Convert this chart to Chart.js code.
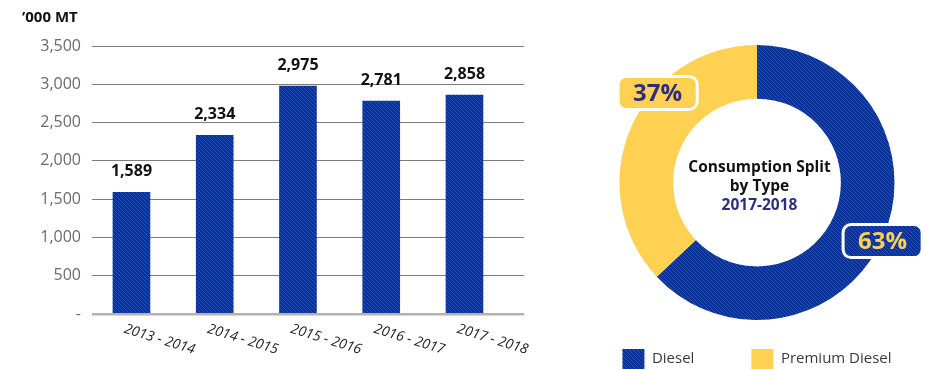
<!DOCTYPE html>
<html>
<head>
<meta charset="utf-8">
<script src="https://cdn.jsdelivr.net/npm/chart.js@4"></script>
<style>
  html, body { margin: 0; padding: 0; background: #fff; overflow: hidden; }
  #wrap { position: relative; width: 926px; height: 370px; overflow: hidden; }
  #bars { position: absolute; left: 0; top: 0; }
  #split { position: absolute; left: 547px; top: 0; }
</style>
</head>
<body>
<div id="wrap">
  <canvas id="bars" width="545" height="370"></canvas>
  <canvas id="split" width="420" height="380"></canvas>
</div>
<script>
// diesel consumption per year, '000 MT
var seasons = ['2013 - 2014', '2014 - 2015', '2015 - 2016', '2016 - 2017', '2017 - 2018'];
var consumption = [1589, 2334, 2975, 2781, 2858];
var yTicks = [0, 500, 1000, 1500, 2000, 2500, 3000, 3500];

// split of consumption by fuel type (%)
var fuelTypes = ['Diesel', 'Premium Diesel'];
var fuelShare = [63, 37];
var splitTitle = ['Consumption Split', 'by Type'];
var splitYear = '2017-2018';

Chart.defaults.font.family = '"Open Sans", sans-serif';

// thin diagonal stripes over the blue fill
function hatch(base, line) {
  var c = document.createElement('canvas');
  c.width = 4; c.height = 4;
  var g = c.getContext('2d');
  g.fillStyle = base;
  g.fillRect(0, 0, 4, 4);
  g.strokeStyle = line;
  g.lineWidth = 1;
  g.beginPath();
  g.moveTo(-1, -1); g.lineTo(5, 5);
  g.moveTo(-1, 3); g.lineTo(1, 5);
  g.moveTo(3, -1); g.lineTo(5, 1);
  g.stroke();
  return g.createPattern(c, 'repeat');
}

var blue = hatch('#08329a', '#2651b2');
var yellow = '#ffd152';
var navy = '#2d2f7e';

var barLabels = {
  id: 'barLabels',
  afterDatasetsDraw: function (chart) {
    var ctx = chart.ctx;
    var meta = chart.getDatasetMeta(0);
    var xs = chart.scales.x;
    ctx.save();
    // value above each bar
    ctx.font = 'bold 16px "Open Sans"';
    ctx.fillStyle = '#111';
    ctx.textAlign = 'center';
    ctx.textBaseline = 'alphabetic';
    meta.data.forEach(function (bar, i) {
      ctx.fillText(consumption[i].toLocaleString('en-US'), bar.x, bar.y - 16);
    });
    // unit caption
    ctx.font = 'bold 15px "Open Sans"';
    ctx.textAlign = 'left';
    ctx.textBaseline = 'middle';
    ctx.fillText('\u2019000 MT', chart.scales.y.left, 18);
    // slanted year labels
    ctx.font = 'italic 14px "Open Sans"';
    ctx.fillStyle = '#222';
    ctx.textBaseline = 'top';
    seasons.forEach(function (s, i) {
      ctx.save();
      ctx.translate(xs.getPixelForValue(i) - 5, chart.chartArea.bottom + 8);
      ctx.rotate(17 * Math.PI / 180);
      ctx.fillText(s, 0, 0);
      ctx.restore();
    });
    ctx.restore();
  }
};

new Chart(document.getElementById('bars'), {
  type: 'bar',
  data: {
    datasets: [{
      data: seasons.map(function (s, i) { return { x: i, y: consumption[i] }; }),
      backgroundColor: blue,
      borderWidth: 0,
      barThickness: 37
    }]
  },
  options: {
    responsive: false,
    animation: false,
    layout: { padding: { left: 22, top: 46, right: 21, bottom: 56 } },
    plugins: {
      legend: { display: false },
      tooltip: { enabled: false }
    },
    scales: {
      x: {
        type: 'linear',
        offset: false,
        min: -0.474,
        max: 4.715,
        grid: { display: false },
        border: { display: false },
        ticks: { display: false },
        afterFit: function (s) { s.height = 0; }
      },
      y: {
        min: 0,
        max: 3500,
        afterBuildTicks: function (s) {
          s.ticks = yTicks.map(function (v) { return { value: v }; });
        },
        afterFit: function (s) { s.width = 70; },
        border: { display: false },
        grid: {
          drawTicks: false,
          color: function (c) { return c.tick.value === 0 ? '#b7b0b1' : '#7d7d7d'; },
          lineWidth: function (c) { return c.tick.value === 0 ? 2.5 : 1; }
        },
        ticks: {
          padding: 11,
          color: '#6b6b6b',
          font: { size: 16 },
          callback: function (v) { return v === 0 ? '-' : v.toLocaleString('en-US'); }
        }
      }
    }
  },
  plugins: [barLabels]
});

// where each percentage tag sits: fraction along its arc, and distance as a share of the outer radius
var tagAnchor = [0.507, 0.64];
var tagReach = [1.008, 0.973];
var tagFill = [blue, yellow];
var tagText = [yellow, navy];

var splitLabels = {
  id: 'splitLabels',
  afterDatasetsDraw: function (chart) {
    var ctx = chart.ctx;
    var meta = chart.getDatasetMeta(0);
    var total = fuelShare.reduce(function (a, b) { return a + b; }, 0);
    var cx = meta.data[0].x, cy = meta.data[0].y;
    ctx.save();
    ctx.font = 'bold 24px "Open Sans"';
    ctx.textAlign = 'center';
    ctx.textBaseline = 'middle';
    meta.data.forEach(function (arc, i) {
      var a = arc.startAngle + (arc.endAngle - arc.startAngle) * tagAnchor[i];
      var r = arc.outerRadius * tagReach[i];
      var x = arc.x + Math.cos(a) * r;
      var y = arc.y + Math.sin(a) * r;
      var txt = Math.round(fuelShare[i] / total * 100) + '%';
      var w = ctx.measureText(txt).width + 30, h = 33;
      ctx.beginPath();
      ctx.roundRect(x - w / 2, y - h / 2, w, h, 8);
      ctx.fillStyle = tagFill[i];
      ctx.fill();
      ctx.lineWidth = 3;
      ctx.strokeStyle = '#fff';
      ctx.stroke();
      ctx.fillStyle = tagText[i];
      ctx.fillText(txt, x, y + 1);
    });
    // caption in the hole
    ctx.font = 'bold 15.5px "Open Sans"';
    ctx.fillStyle = '#111';
    ctx.fillText(splitTitle[0], cx + 2.5, cy - 15);
    ctx.fillText(splitTitle[1], cx + 2.5, cy + 4);
    ctx.fillStyle = navy;
    ctx.fillText(splitYear, cx + 2.5, cy + 23);
    ctx.restore();
  }
};

new Chart(document.getElementById('split'), {
  type: 'doughnut',
  data: {
    labels: fuelTypes,
    datasets: [{
      data: fuelShare,
      backgroundColor: [blue, yellow],
      borderWidth: 0
    }]
  },
  options: {
    responsive: false,
    animation: false,
    cutout: '61%',
    radius: 137.5,
    layout: { padding: { top: 73, bottom: 1 } },
    plugins: {
      tooltip: { enabled: false },
      legend: {
        position: 'bottom',
        labels: {
          boxWidth: 22,
          boxHeight: 20,
          padding: 57,
          color: '#3a3a3a',
          font: { size: 15 }
        }
      }
    }
  },
  plugins: [splitLabels]
});
</script>
</body>
</html>
